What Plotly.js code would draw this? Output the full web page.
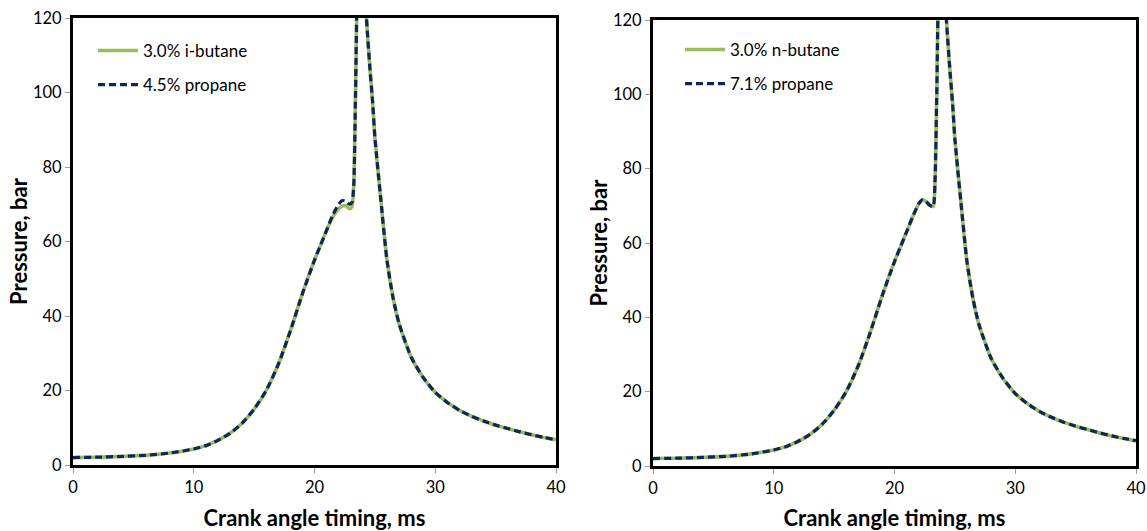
<!DOCTYPE html>
<html><head><meta charset="utf-8">
<script src="https://cdn.plot.ly/plotly-3.0.1.min.js"></script>
<style>html,body{margin:0;padding:0;background:#fff}#chart{width:1147px;height:531px}</style>
</head><body><div id="chart"></div>
<script>
// Left panel
const xLeft = [0,2,4,6,8,10,11,12,13,14,15,16,17,18,19,20,20.5,21,21.5,22,22.3,22.6,22.9,23.1,23.25,23.4,23.6,23.8,24.0,24.3,24.6,24.8,25,25.5,26,26.5,27,28,29,30,31,32,33,34,35,36,37,38,39,40];
const leftGreen = [2,2.1,2.3,2.6,3.2,4.3,5.2,6.6,8.5,11.2,15,20,27,36,46,55,59,63,66.5,68.8,69.5,69.6,68.8,69.3,75,100,135,140,135,120,106,98,88,71,55,45,38,29,23.5,19.5,16.8,14.7,13.1,11.8,10.7,9.8,8.9,8.1,7.4,6.8];
const leftNavy  = [2,2.1,2.3,2.6,3.2,4.3,5.2,6.6,8.5,11.2,15,20,27,36,46,55,59,63,67,70,71,70.8,70,70.5,75,100,135,140,135,120,106,98,88,71,55,45,38,29,23.5,19.5,16.8,14.7,13.1,11.8,10.7,9.8,8.9,8.1,7.4,6.8];
// Right panel
const xRight = [0,2,4,6,8,10,11,12,13,14,15,16,17,18,19,20,20.5,21,21.5,22,22.3,22.6,22.9,23.2,23.35,23.5,23.7,23.9,24.1,24.3,24.6,24.8,25,25.5,26,26.5,27,28,29,30,31,32,33,34,35,36,37,38,39,40];
const rightGreen = [2,2.1,2.3,2.6,3.2,4.3,5.2,6.6,8.5,11.2,15,20,27,36,46,55,59,63,67,70.5,71.6,71.2,70.2,69.8,76,100,135,140,135,120,106,98,88,71,55,45,38,29,23.5,19.5,16.8,14.7,13.1,11.8,10.7,9.8,8.9,8.1,7.4,6.8];
const rightNavy  = [2,2.1,2.3,2.6,3.2,4.3,5.2,6.6,8.5,11.2,15,20,27,36,46,55,59,63,67,70.5,71.6,71.2,70.2,69.8,76,100,135,140,135,120,106,98,88,71,55,45,38,29,23.5,19.5,16.8,14.7,13.1,11.8,10.7,9.8,8.9,8.1,7.4,6.8];

const namesLeft = ["3.0% i-butane","4.5% propane"];
const namesRight = ["3.0% n-butane","7.1% propane"];
const xTicks = [0,10,20,30,40];
const yTicks = [0,20,40,60,80,100,120];

const green = "#9BBB59", navy = "#0B2660";
const FONT = "Lato, 'Open Sans', sans-serif";

const traces = [
  {x:xLeft,y:leftGreen,name:namesLeft[0],legendgroup:"a",mode:"lines",line:{color:green,width:3.6,shape:"spline",smoothing:0.6},xaxis:"x",yaxis:"y",legend:"legend"},
  {x:xLeft,y:leftNavy,name:namesLeft[1],legendgroup:"b",mode:"lines",line:{color:navy,width:3.2,dash:"7px,4px",shape:"spline",smoothing:0.6},xaxis:"x",yaxis:"y",legend:"legend"},
  {x:xRight,y:rightGreen,name:namesRight[0],legendgroup:"c",mode:"lines",line:{color:green,width:3.6,shape:"spline",smoothing:0.6},xaxis:"x2",yaxis:"y2",legend:"legend2"},
  {x:xRight,y:rightNavy,name:namesRight[1],legendgroup:"d",mode:"lines",line:{color:navy,width:3.2,dash:"7px,4px",shape:"spline",smoothing:0.6},xaxis:"x2",yaxis:"y2",legend:"legend2"}
];

const axCommon = {
  showline:true, mirror:true, linecolor:"#000", linewidth:3,
  ticks:"outside", ticklen:5, tickwidth:1, tickcolor:"#999",
  showgrid:false, zeroline:false, automargin:false,
  tickfont:{family:FONT,size:16.5,color:"#000"}
};
const titleFont = {family:FONT,size:22,color:"#000",weight:"bold"};
const legFont = {family:FONT,size:17,color:"#000"};

const layout = {
  width:1147, height:531,
  margin:{l:0,r:0,t:0,b:0},
  paper_bgcolor:"#fff", plot_bgcolor:"#fff",
  showlegend:true,
  xaxis:Object.assign({},axCommon,{domain:[73/1147,556/1147],range:[0,40],tickvals:xTicks,anchor:"y",
    title:{text:"Crank angle timing, ms",font:titleFont,standoff:16}}),
  yaxis:Object.assign({},axCommon,{domain:[1-465/531,1-18/531],range:[0,120],tickvals:yTicks,anchor:"x",
    title:{text:"Pressure, bar",font:titleFont,standoff:0}}),
  xaxis2:Object.assign({},axCommon,{domain:[653/1147,1136/1147],range:[0,40],tickvals:xTicks,anchor:"y2",
    title:{text:"Crank angle timing, ms",font:titleFont,standoff:14}}),
  yaxis2:Object.assign({},axCommon,{domain:[1-466/531,1-20/531],range:[0,120],tickvals:yTicks,anchor:"x2",
    title:{text:"Pressure, bar",font:titleFont,standoff:0}}),
  legend:{x:93/1147,y:1-33/531,xanchor:"left",yanchor:"top",bgcolor:"rgba(0,0,0,0)",font:legFont,traceorder:"grouped",tracegroupgap:9,itemwidth:40},
  legend2:{x:680/1147,y:1-32/531,xanchor:"left",yanchor:"top",bgcolor:"rgba(0,0,0,0)",font:legFont,traceorder:"grouped",tracegroupgap:9,itemwidth:40}
};

Plotly.newPlot("chart",traces,layout,{displayModeBar:false,staticPlot:true});
</script></body></html>
